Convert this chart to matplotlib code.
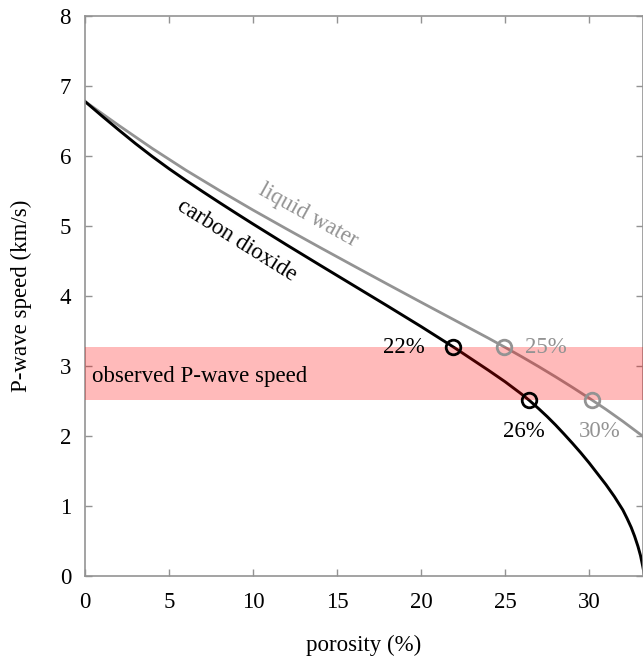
"""P-wave speed versus porosity for CO2- and water-filled pores."""
import matplotlib
matplotlib.use("Agg")
import matplotlib.pyplot as plt

plt.rcParams["font.family"] = ["Liberation Serif", "DejaVu Serif"]
plt.rcParams["font.size"] = 16.5

# --- Data ---
co2_porosity = [0, 1, 2, 3, 4, 5, 6, 7, 8, 9, 10, 12, 14, 16, 18, 20, 22, 24, 25, 26,
                26.45, 27, 27.5, 28, 28.5, 29, 29.5, 30, 30.5, 31, 31.5, 32, 32.25,
                32.5, 32.7, 32.9, 33.05, 33.19, 33.3]
co2_speed = [6.78, 6.575, 6.375, 6.18, 5.995, 5.82, 5.654, 5.494, 5.337, 5.183, 5.031,
             4.733, 4.441, 4.151, 3.861, 3.567, 3.263, 2.944, 2.779, 2.599,
             2.511, 2.394, 2.282, 2.162, 2.034, 1.902, 1.765, 1.62, 1.465, 1.31, 1.14,
             0.95, 0.83, 0.70, 0.575, 0.43, 0.30, 0.14, 0.0]

water_porosity = [0, 2, 4, 6, 8, 10, 12, 14, 16, 18, 20, 22, 24, 25, 26, 27, 28, 29,
                  30, 31, 32, 33.2]
water_speed = [6.78, 6.44, 6.11, 5.80, 5.51, 5.23, 4.96, 4.694, 4.432, 4.172, 3.914,
               3.658, 3.402, 3.27, 3.135, 2.995, 2.85, 2.70, 2.545, 2.385, 2.215, 2.0]

observed_low, observed_high = 2.52, 3.27

co2_hits_x = [21.92, 26.42]
co2_hits_y = [3.27, 2.52]
co2_hit_labels = ["22%", "26%"]
water_hits_x = [24.9, 30.16]
water_hits_y = [3.27, 2.52]
water_hit_labels = ["25%", "30%"]

grey = "#939393"

# --- Figure ---
fig = plt.figure(figsize=(6.43, 6.59), dpi=100)
ax = fig.add_axes([0.1322, 0.1252, 0.8678, 0.8505])

ax.plot(water_porosity, water_speed, color=grey, linewidth=2.0, zorder=2)
ax.plot(co2_porosity, co2_speed, color="black", linewidth=2.1, zorder=2)

# observed band drawn over the curves
ax.axhspan(observed_low, observed_high, facecolor="red", alpha=0.27, linewidth=0, zorder=3)

ax.plot(co2_hits_x, co2_hits_y, linestyle="none", marker="o", markersize=10.5,
        markerfacecolor="none", markeredgecolor="black", markeredgewidth=2.0, zorder=4)
ax.plot(water_hits_x, water_hits_y, linestyle="none", marker="o", markersize=10.5,
        markerfacecolor="none", markeredgecolor=grey, markeredgewidth=2.0, zorder=4)

# percentage labels at the crossings
ax.text(18.99, co2_hits_y[0], co2_hit_labels[0], ha="center", va="center", zorder=5)
ax.text(26.09, 2.07, co2_hit_labels[1], ha="center", va="center", zorder=5)
ax.text(27.44, water_hits_y[0], water_hit_labels[0], ha="center", va="center", color=grey, zorder=5)
ax.text(30.65, 2.07, water_hit_labels[1], ha="center", va="center", color=grey, zorder=5)

ax.text(0.42, 2.85, "observed P-wave speed", ha="left", va="center", zorder=5)
ax.text(13.27, 5.16, "liquid water", color=grey, rotation=-29,
        ha="center", va="center", rotation_mode="anchor")
ax.text(9.05, 4.80, "carbon dioxide", color="black", rotation=-32,
        ha="center", va="center", rotation_mode="anchor")

ax.set_xlim(0, 33.2)
ax.set_ylim(0, 8)
ax.set_xticks([0, 5, 10, 15, 20, 25, 30])
ax.set_yticks(range(0, 9))
ax.set_xlabel("porosity (%)", labelpad=16)
ax.set_ylabel("P-wave speed (km/s)", labelpad=20)

for s in ax.spines.values():
    s.set_color(grey)
    s.set_linewidth(1.2)
ax.tick_params(direction="in", length=5, width=1, color=grey,
               top=True, right=True, labelsize=16.5)
ax.tick_params(axis="x", pad=11)
ax.tick_params(axis="y", pad=10)

plt.savefig("out.png", dpi=100)
